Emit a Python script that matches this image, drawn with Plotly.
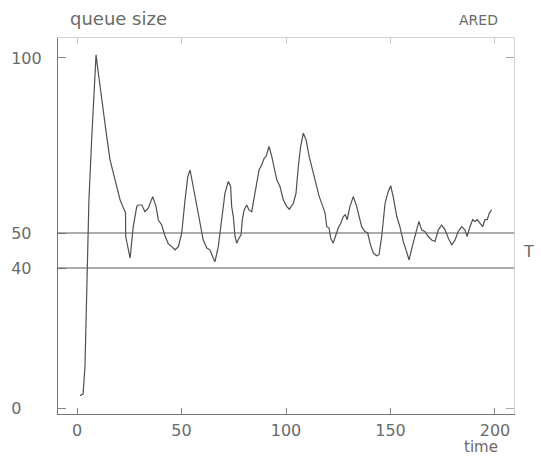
import plotly.graph_objects as go

# time (s) and queue size (packets)
time = [1.4, 2.9, 3.8, 5.3, 5.7, 7.0, 8.1, 9.1, 10.2, 12.6, 14.2, 15.8, 17.4, 19.0, 20.6, 21.9, 23.0, 23.2,
        23.3, 24.5, 25.4, 26.9, 28.6, 29.3, 31.0, 32.5, 34.1, 36.2, 37.8, 38.9, 40.5, 42.1, 43.7, 45.3,
        46.9, 48.5, 50.1, 51.7, 53.0, 54.1, 55.6, 57.3, 58.9, 60.4, 62.1, 63.6, 65.2, 66.0, 67.6, 69.2,
        70.8, 72.4, 73.5, 74.0, 74.8, 75.6, 76.4, 77.5, 78.5, 79.1, 80.0, 81.2, 82.3, 83.6, 84.8, 86.0,
        87.1, 88.4, 89.6, 90.4, 91.9, 93.2, 94.3, 95.6, 97.1, 98.7, 100.3, 101.6, 103.5, 104.8, 105.9,
        107.0, 108.3, 109.6, 111.1, 112.8, 114.4, 115.9, 117.6, 118.7, 119.5, 120.6, 121.4, 122.6, 123.9,
        125.0, 126.2, 127.4, 128.4, 129.3, 130.6, 132.2, 133.8, 135.1, 136.2, 137.8, 139.1, 140.2, 141.8,
        143.4, 144.5, 145.8, 147.4, 148.9, 150.1, 151.3, 153.0, 154.5, 156.1, 157.7, 158.9, 160.4, 162.1,
        163.6, 164.9, 166.5, 168.1, 169.7, 171.3, 172.9, 174.5, 176.1, 177.7, 179.3, 180.9, 182.4, 184.1,
        185.6, 186.7, 188.0, 189.3, 190.4, 191.5, 192.8, 194.1, 195.2, 196.3, 197.3, 198.4]
queue = [3.5, 4.0, 11.8, 49.5, 59.5, 76.6, 90.9, 100.9, 95.7, 84.2, 77.6, 70.9, 67.1, 63.3, 59.5, 57.6, 56.1, 55.8,
         49.0, 45.2, 42.8, 51.8, 57.6, 58.0, 58.0, 56.1, 57.1, 60.4, 57.6, 53.8, 52.3, 49.2, 46.9, 46.1,
         45.2, 46.1, 50.0, 59.5, 66.1, 68.0, 63.3, 58.5, 52.8, 48.0, 45.7, 45.2, 42.8, 41.8, 46.1, 53.8,
         61.4, 64.7, 63.3, 57.6, 54.7, 49.0, 47.1, 48.5, 49.5, 53.8, 56.6, 58.0, 56.6, 56.1, 60.4, 65.2,
         68.0, 69.5, 71.4, 71.8, 74.7, 71.8, 69.0, 65.2, 63.3, 59.5, 57.6, 56.8, 58.5, 61.4, 69.0,
         74.7, 78.5, 76.6, 71.8, 68.0, 64.2, 60.4, 57.6, 55.7, 51.8, 51.4, 48.5, 47.1, 49.5,
         51.4, 52.8, 54.7, 55.2, 53.8, 57.6, 60.4, 57.6, 54.7, 51.8, 50.4, 50.0, 47.1, 44.2,
         43.5, 43.8, 49.0, 58.5, 61.8, 63.5, 60.4, 54.7, 51.8, 47.6, 44.7, 42.3, 46.1, 50.0,
         53.3, 50.9, 50.4, 49.0, 48.0, 47.6, 50.9, 52.3, 50.9, 48.5, 46.6, 48.0, 50.4, 51.8,
         50.9, 49.0, 51.8, 53.8, 53.3, 53.8, 52.8, 51.8, 53.8, 53.8, 55.7, 56.6]

thresholds = [50, 40]
x_ticks = [0, 50, 100, 150, 200]
y_ticks = [0, 40, 50, 100]
y_tick_text = ["0\u00a0\u00a0\u00a0\u00a0", "40\u00a0\u00a0", "50\u00a0\u00a0", "100"]

FONT = "DejaVu Sans, Liberation Sans, sans-serif"
TXT = "#6a6a6a"

fig = go.Figure()
fig.add_trace(go.Scatter(x=time, y=queue, mode="lines",
                         line=dict(color="#505050", width=1.2), showlegend=False))
# invisible trace to activate the mirrored top/right axes
fig.add_trace(go.Scatter(x=[time[0]], y=[queue[0]], xaxis="x2", yaxis="y2",
                         mode="markers", marker=dict(opacity=0), showlegend=False, hoverinfo="skip"))

for t in thresholds:
    fig.add_shape(type="line", xref="paper", x0=0, x1=1, yref="y", y0=t, y1=t,
                  line=dict(color="#5a5a5a", width=1.2))

xr = [-9.1, 209.1]
yr = [-1.7, 105.7]

fig.update_layout(
    width=541, height=459,
    margin=dict(l=58, r=27, t=38, b=45),
    paper_bgcolor="white", plot_bgcolor="white",
    font=dict(family=FONT, size=16, color=TXT),
    xaxis=dict(range=xr, tickvals=x_ticks, ticks="inside", ticklen=6, tickcolor="#888",
               showline=True, linecolor="#777", linewidth=1.2, showgrid=False, zeroline=False,
               tickfont=dict(size=16, color=TXT), ticklabelstandoff=2),
    yaxis=dict(range=yr, tickvals=y_ticks, ticktext=y_tick_text, ticks="inside", ticklen=8,
               tickcolor="#888", showline=True, linecolor="#777", linewidth=1.2, showgrid=False,
               zeroline=False, tickfont=dict(size=16, color=TXT), ticklabelstandoff=12),
    xaxis2=dict(range=xr, overlaying="x", side="top", tickvals=x_ticks, ticks="inside", ticklen=6,
                tickcolor="#ccc", showline=True, linecolor="#d4d4d4", linewidth=1,
                showticklabels=False, showgrid=False, zeroline=False),
    yaxis2=dict(range=yr, overlaying="y", side="right", tickvals=[0, 100], ticks="inside", ticklen=8,
                tickcolor="#aaa", showline=True, linecolor="#d4d4d4", linewidth=1,
                showticklabels=False, showgrid=False, zeroline=False),
    annotations=[
        dict(text="queue size", xref="paper", yref="paper", x=0.022, y=1.053,
             xanchor="left", yanchor="middle", showarrow=False, font=dict(size=18, color=TXT)),
        dict(text="ARED", xref="paper", yref="paper", x=0.969, y=1.048,
             xanchor="right", yanchor="middle", showarrow=False, font=dict(size=14, color=TXT)),
        dict(text="time", xref="paper", yref="paper", x=0.969, y=-0.088,
             xanchor="right", yanchor="middle", showarrow=False, font=dict(size=15, color=TXT)),
        dict(text="T", xref="paper", yref="paper", x=1.031, y=0.431,
             xanchor="center", yanchor="middle", showarrow=False, font=dict(size=16, color=TXT)),
    ],
)

fig.write_html("out.html")
